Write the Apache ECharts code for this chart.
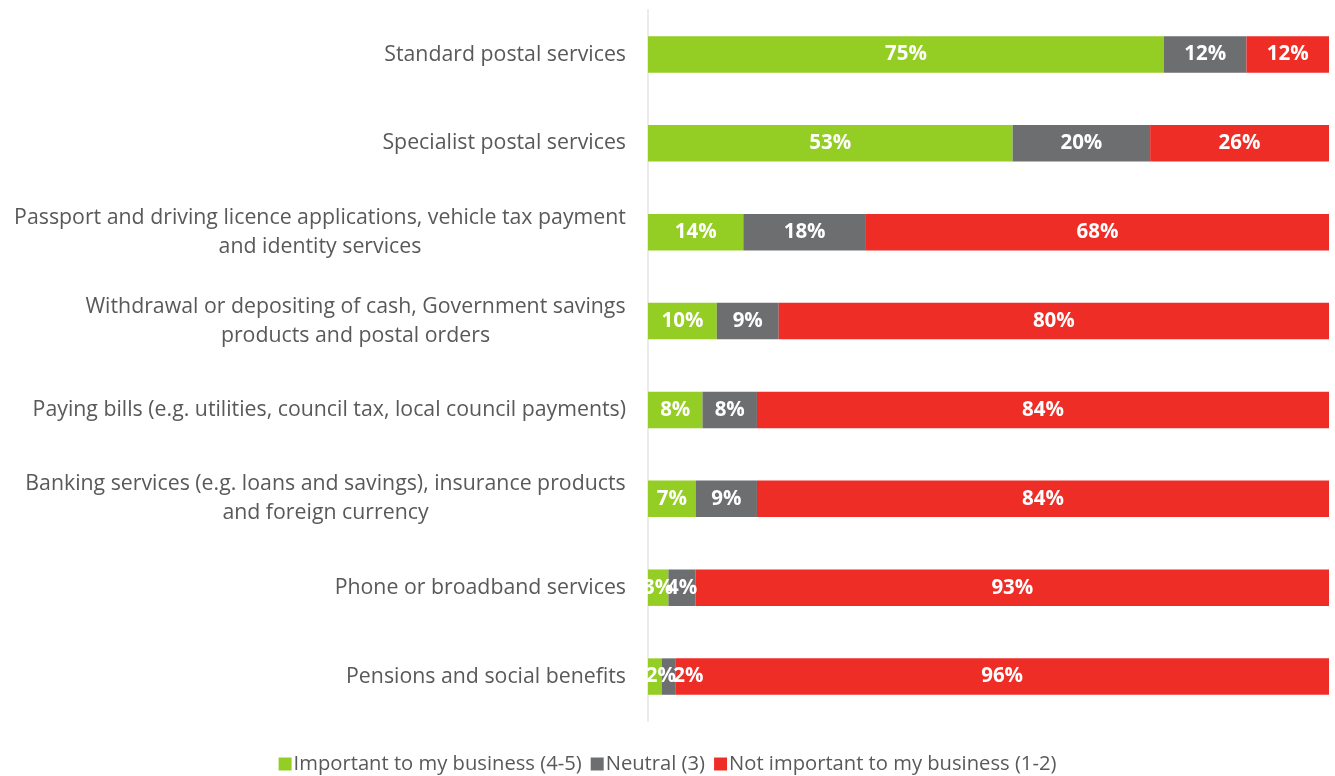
<!DOCTYPE html>
<html>
<head>
<meta charset="utf-8">
<script src="https://cdn.jsdelivr.net/npm/echarts@6/dist/echarts.min.js"></script>
<style>
  html, body { margin: 0; padding: 0; background: #ffffff; }
  #chart { width: 1335px; height: 776px; }
</style>
</head>
<body>
<div id="chart"></div>
<script>
// Survey services, top to bottom
const categories = [
  'Standard postal services',
  'Specialist postal services',
  'Passport and driving licence applications, vehicle tax payment\nand identity services',
  'Withdrawal or depositing of cash, Government savings\nproducts and postal orders',
  'Paying bills (e.g. utilities, council tax, local council payments)',
  'Banking services (e.g. loans and savings), insurance products\nand foreign currency',
  'Phone or broadband services',
  'Pensions and social benefits'
];

// Percent of respondents per rating group
const important    = [75, 53, 14, 10, 8, 7, 3, 2];
const neutral      = [12, 20, 18, 9, 8, 9, 4, 2];
const notImportant = [12, 26, 68, 80, 84, 84, 93, 96];

const seriesNames = [
  'Important to my business (4-5)',
  'Neutral (3)',
  'Not important to my business (1-2)'
];
const colors = ['#94cd23', '#6d6e70', '#ee2d27'];

const FONT = 'Open Sans';
const LABEL_SIZE = 21.3;

// 100% stacked: each row is scaled to its own total, labels keep the stated percent
const groups = [important, neutral, notImportant];
const rowTotals = categories.map((_, i) => groups.reduce((s, g) => s + g[i], 0));

// Tiny segments on the last row: push their labels apart so they stay readable
const labelNudge = { '0-7': [6, 0], '1-7': [20, 0] };

// Measure label lines so multi-line category names can be centred line by line
const ctx = document.createElement('canvas').getContext('2d');
ctx.font = LABEL_SIZE + 'px "' + FONT + '"';
function lineWidth(t) { return Math.ceil(ctx.measureText(t).width); }

function categoryLabel(value) {
  const lines = value.split('\n');
  if (lines.length === 1) return value;
  const w = Math.max.apply(null, lines.map(lineWidth));
  return lines.map(l => '{c' + w + '|' + l + '}').join('\n');
}
const richStyles = {};
categories.forEach(c => {
  const lines = c.split('\n');
  if (lines.length > 1) {
    const w = Math.max.apply(null, lines.map(lineWidth));
    richStyles['c' + w] = {
      width: w, align: 'center', fontFamily: FONT, fontSize: LABEL_SIZE,
      color: '#595959', lineHeight: 29
    };
  }
});

const chart = echarts.init(document.getElementById('chart'), null, { renderer: 'canvas' });

const series = groups.map((g, k) => ({
  name: seriesNames[k],
  type: 'bar',
  stack: 'total',
  barCategoryGap: '59%',
  itemStyle: { color: colors[k] },
  label: {
    show: true,
    position: 'inside',
    color: '#ffffff',
    fontFamily: FONT,
    fontWeight: 'bold',
    fontSize: 20.5,
    formatter: p => p.data.raw + '%'
  },
  data: g.map((v, i) => {
    const item = { value: v / rowTotals[i] * 100, raw: v };
    const nudge = labelNudge[k + '-' + i];
    if (nudge) item.label = { offset: nudge };
    return item;
  })
}));

chart.setOption({
  animation: false,
  textStyle: { fontFamily: FONT },
  color: colors,
  grid: { left: 648, right: 6, top: 10, bottom: 55, containLabel: false },
  xAxis: {
    type: 'value', min: 0, max: 100,
    show: false
  },
  yAxis: {
    type: 'category',
    inverse: true,
    data: categories,
    axisLine: { show: true, lineStyle: { color: '#ebebeb', width: 2 } },
    axisTick: { show: false },
    splitLine: { show: false },
    axisLabel: {
      margin: 22,
      fontFamily: FONT,
      fontSize: LABEL_SIZE,
      color: '#595959',
      lineHeight: 29,
      formatter: categoryLabel,
      rich: richStyles
    }
  },
  legend: {
    top: 749,
    left: 'center',
    icon: 'rect',
    itemWidth: 13,
    itemHeight: 13,
    itemGap: 9,
    textStyle: { fontFamily: FONT, fontSize: 20.2, color: '#595959', padding: [0, 0, 0, -3] },
    data: seriesNames
  },
  series: series
});
</script>
</body>
</html>
